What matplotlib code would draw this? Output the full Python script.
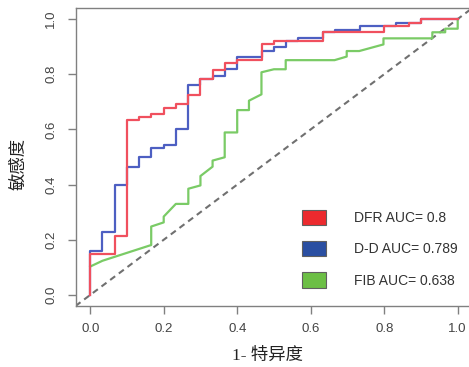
import matplotlib
matplotlib.use("Agg")
import matplotlib.pyplot as plt
from matplotlib.patches import Patch

# ---- data ----
dfr_fpr = [0, 0, 0.0667, 0.1, 0.1333, 0.1667, 0.2, 0.2333, 0.2667, 0.3, 0.3333, 0.3667, 0.4,
           0.4667, 0.5, 0.6333, 0.8, 0.8667, 0.9, 1.0]
dfr_tpr = [0, 0.147, 0.215, 0.634, 0.644, 0.656, 0.679, 0.691, 0.725, 0.783, 0.815, 0.839, 0.851,
           0.908, 0.919, 0.952, 0.976, 0.987, 1.0, 1.0]

dd_fpr = [0, 0, 0.0333, 0.0667, 0.1, 0.1333, 0.1667, 0.2, 0.2333, 0.2667, 0.3, 0.3333, 0.3667,
          0.4, 0.4667, 0.5, 0.5333, 0.5667, 0.6333, 0.6667, 0.7333, 0.8333, 0.9, 1.0]
dd_tpr = [0, 0.159, 0.229, 0.397, 0.465, 0.499, 0.534, 0.545, 0.601, 0.761, 0.783, 0.794, 0.818,
          0.861, 0.885, 0.897, 0.919, 0.930, 0.952, 0.962, 0.976, 0.987, 1.0, 1.0]

fib_fpr = [0, 0.0335, 0.166, 0.166, 0.2, 0.2, 0.233, 0.267, 0.267, 0.3, 0.3, 0.333, 0.333, 0.366,
           0.366, 0.4, 0.4, 0.432, 0.432, 0.466, 0.466, 0.5, 0.532, 0.532, 0.665, 0.698, 0.698,
           0.732, 0.798, 0.798, 0.931, 0.931, 0.966, 0.966, 1.0, 1.0]
fib_tpr = [0.103, 0.124, 0.181, 0.248, 0.263, 0.284, 0.330, 0.330, 0.385, 0.397, 0.431, 0.465,
           0.487, 0.499, 0.589, 0.589, 0.670, 0.670, 0.704, 0.727, 0.807, 0.818, 0.818, 0.851,
           0.851, 0.864, 0.884, 0.884, 0.908, 0.930, 0.930, 0.952, 0.952, 0.965, 0.965, 1.0]

labels = ["DFR AUC= 0.8", "D-D AUC= 0.789", "FIB AUC= 0.638"]
ticks = [0.0, 0.2, 0.4, 0.6, 0.8, 1.0]
tick_labels = ["0.0", "0.2", "0.4", "0.6", "0.8", "1.0"]

W, H = 469, 367
fig = plt.figure(figsize=(W / 100, H / 100), dpi=100)
ax = fig.add_axes([75.5 / W, 1 - 306 / H, (472.4 - 75.5) / W, (306 - 8) / H])

line_red, line_blue, line_green = "#F0505E", "#4D5FC2", "#7ACB66"
leg_red, leg_blue, leg_green = "#EC2A2E", "#2A4FA2", "#6CBF45"

ax.axline((0, 0), (1, 1), color="#707070", lw=1.5, ls=(0, (3, 2.2)), zorder=1)
ax.plot(fib_fpr, fib_tpr, color=line_green, lw=1.6, zorder=2)
ax.plot(dd_fpr, dd_tpr, color=line_blue, lw=1.6, drawstyle="steps-post", zorder=3)
ax.plot(dfr_fpr, dfr_tpr, color=line_red, lw=1.6, drawstyle="steps-post", zorder=4)

ax.set_xlim(-0.04, 1.04)
ax.set_ylim(-0.04, 1.04)
for s in ax.spines.values():
    s.set_color("#808080")
    s.set_linewidth(1.0)

ax.set_xticks(ticks)
ax.set_yticks(ticks)
ax.set_xticklabels(tick_labels, family="Liberation Sans", fontsize=9.5, color="#444444")
ax.set_yticklabels(tick_labels, family="Liberation Sans", fontsize=9.5, color="#444444",
                   rotation=90, va="center", ha="right")
ax.tick_params(axis="both", length=6, width=1, color="#808080", direction="out")
ax.tick_params(axis="x", pad=6)
ax.tick_params(axis="y", pad=7)

handles = [Patch(facecolor=c, edgecolor="#606060", lw=0.8) for c in (leg_red, leg_blue, leg_green)]
ax.legend(handles, labels, loc="upper left", bbox_to_anchor=(302 / W, 1 - 210 / H),
          bbox_transform=fig.transFigure, frameon=False, borderpad=0, borderaxespad=0,
          handlelength=1.73, handleheight=1.3, handletextpad=2.0, labelspacing=1.15,
          prop={"family": "Liberation Sans", "size": 10}, labelcolor="#333333")

fig.text(18 / W, 1 - 164 / H, "敏感度", rotation=90, ha="center", va="center",
         family=["Noto Sans CJK SC", "DejaVu Sans"], fontsize=12.5, color="#222222")
fig.text(267 / W, 1 - 356 / H, "1- 特异度", ha="center", va="center",
         family=["Liberation Serif", "Noto Sans CJK SC"], fontsize=12.5, color="#222222")

fig.savefig("out.png", dpi=100)
